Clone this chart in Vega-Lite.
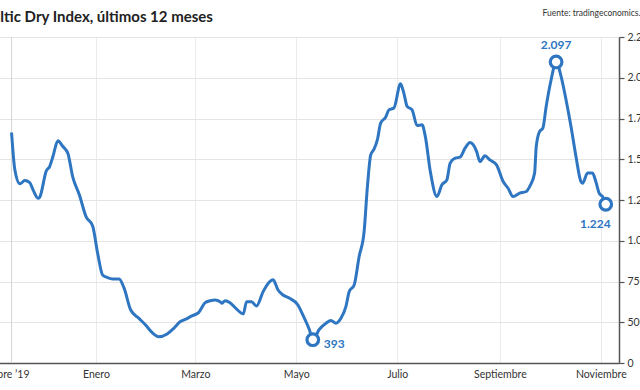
{
  "$schema": "https://vega.github.io/schema/vega-lite/v6.json",
  "width": 624,
  "height": 326,
  "autosize": {"type": "none"},
  "padding": {"left": -5, "top": 37, "right": 21, "bottom": 27},
  "background": "white",
  "title": {
    "text": "Baltic Dry Index, últimos 12 meses",
    "anchor": "start",
    "frame": "group",
    "fontSize": 15,
    "fontWeight": "bold",
    "color": "#222222",
    "font": "Lato",
    "baseline": "alphabetic",
    "dx": -12,
    "dy": 29,
    "offset": 0
  },
  "config": {
    "font": "Lato",
    "view": {"stroke": null}
  },
  "datasets": {
    "bdi": [
      {"date": "2019-11-11", "value": 1664},
      {"date": "2019-11-13", "value": 1435},
      {"date": "2019-11-16", "value": 1349},
      {"date": "2019-11-19", "value": 1369},
      {"date": "2019-11-22", "value": 1357},
      {"date": "2019-11-24", "value": 1312},
      {"date": "2019-11-27", "value": 1261},
      {"date": "2019-11-28", "value": 1267},
      {"date": "2019-12-02", "value": 1429},
      {"date": "2019-12-04", "value": 1455},
      {"date": "2019-12-06", "value": 1517},
      {"date": "2019-12-09", "value": 1613},
      {"date": "2019-12-12", "value": 1578},
      {"date": "2019-12-15", "value": 1537},
      {"date": "2019-12-18", "value": 1390},
      {"date": "2019-12-22", "value": 1281},
      {"date": "2019-12-26", "value": 1148},
      {"date": "2019-12-30", "value": 1091},
      {"date": "2020-01-02", "value": 924},
      {"date": "2020-01-05", "value": 790},
      {"date": "2020-01-08", "value": 774},
      {"date": "2020-01-11", "value": 766},
      {"date": "2020-01-15", "value": 766},
      {"date": "2020-01-18", "value": 709},
      {"date": "2020-01-22", "value": 575},
      {"date": "2020-01-27", "value": 524},
      {"date": "2020-01-31", "value": 483},
      {"date": "2020-02-04", "value": 436},
      {"date": "2020-02-08", "value": 411},
      {"date": "2020-02-13", "value": 428},
      {"date": "2020-02-17", "value": 463},
      {"date": "2020-02-21", "value": 504},
      {"date": "2020-02-24", "value": 518},
      {"date": "2020-02-28", "value": 539},
      {"date": "2020-03-03", "value": 559},
      {"date": "2020-03-07", "value": 620},
      {"date": "2020-03-10", "value": 632},
      {"date": "2020-03-13", "value": 637},
      {"date": "2020-03-16", "value": 626},
      {"date": "2020-03-17", "value": 616},
      {"date": "2020-03-19", "value": 632},
      {"date": "2020-03-22", "value": 620},
      {"date": "2020-03-26", "value": 580},
      {"date": "2020-03-30", "value": 551},
      {"date": "2020-04-01", "value": 626},
      {"date": "2020-04-04", "value": 626},
      {"date": "2020-04-07", "value": 600},
      {"date": "2020-04-11", "value": 688},
      {"date": "2020-04-15", "value": 749},
      {"date": "2020-04-17", "value": 760},
      {"date": "2020-04-20", "value": 698},
      {"date": "2020-04-23", "value": 667},
      {"date": "2020-04-27", "value": 647},
      {"date": "2020-05-02", "value": 606},
      {"date": "2020-05-05", "value": 545},
      {"date": "2020-05-09", "value": 453},
      {"date": "2020-05-11", "value": 393},
      {"date": "2020-05-15", "value": 457},
      {"date": "2020-05-19", "value": 494},
      {"date": "2020-05-22", "value": 510},
      {"date": "2020-05-25", "value": 494},
      {"date": "2020-05-28", "value": 524},
      {"date": "2020-05-31", "value": 596},
      {"date": "2020-06-02", "value": 688},
      {"date": "2020-06-05", "value": 729},
      {"date": "2020-06-08", "value": 903},
      {"date": "2020-06-11", "value": 1056},
      {"date": "2020-06-13", "value": 1332},
      {"date": "2020-06-15", "value": 1527},
      {"date": "2020-06-17", "value": 1562},
      {"date": "2020-06-19", "value": 1619},
      {"date": "2020-06-21", "value": 1722},
      {"date": "2020-06-24", "value": 1758},
      {"date": "2020-06-26", "value": 1803},
      {"date": "2020-06-29", "value": 1814},
      {"date": "2020-07-03", "value": 1963},
      {"date": "2020-07-05", "value": 1906},
      {"date": "2020-07-07", "value": 1824},
      {"date": "2020-07-10", "value": 1803},
      {"date": "2020-07-13", "value": 1707},
      {"date": "2020-07-16", "value": 1711},
      {"date": "2020-07-18", "value": 1639},
      {"date": "2020-07-21", "value": 1425},
      {"date": "2020-07-25", "value": 1271},
      {"date": "2020-07-28", "value": 1343},
      {"date": "2020-07-31", "value": 1374},
      {"date": "2020-08-02", "value": 1476},
      {"date": "2020-08-05", "value": 1507},
      {"date": "2020-08-08", "value": 1513},
      {"date": "2020-08-11", "value": 1568},
      {"date": "2020-08-14", "value": 1603},
      {"date": "2020-08-16", "value": 1588},
      {"date": "2020-08-18", "value": 1547},
      {"date": "2020-08-20", "value": 1486},
      {"date": "2020-08-23", "value": 1521},
      {"date": "2020-08-26", "value": 1496},
      {"date": "2020-08-30", "value": 1466},
      {"date": "2020-09-03", "value": 1363},
      {"date": "2020-09-06", "value": 1322},
      {"date": "2020-09-09", "value": 1271},
      {"date": "2020-09-13", "value": 1292},
      {"date": "2020-09-17", "value": 1302},
      {"date": "2020-09-19", "value": 1332},
      {"date": "2020-09-22", "value": 1415},
      {"date": "2020-09-23", "value": 1578},
      {"date": "2020-09-25", "value": 1670},
      {"date": "2020-09-27", "value": 1691},
      {"date": "2020-09-29", "value": 1824},
      {"date": "2020-10-02", "value": 1988},
      {"date": "2020-10-05", "value": 2097},
      {"date": "2020-10-08", "value": 2009},
      {"date": "2020-10-11", "value": 1865},
      {"date": "2020-10-14", "value": 1701},
      {"date": "2020-10-17", "value": 1517},
      {"date": "2020-10-20", "value": 1363},
      {"date": "2020-10-21", "value": 1353},
      {"date": "2020-10-24", "value": 1415},
      {"date": "2020-10-27", "value": 1415},
      {"date": "2020-10-29", "value": 1363},
      {"date": "2020-10-31", "value": 1292},
      {"date": "2020-11-02", "value": 1271},
      {"date": "2020-11-04", "value": 1224}
    ],
    "marks": [
      {"date": "2020-05-11", "value": 393, "label": "393"},
      {"date": "2020-10-05", "value": 2097, "label": "2.097"},
      {"date": "2020-11-04", "value": 1224, "label": "1.224"}
    ]
  },
  "layer": [
    {
      "data": {"name": "bdi"},
      "mark": {"type": "rule", "color": "#d6d6d6", "strokeWidth": 1},
      "encoding": {
        "x": {"field": "date", "type": "temporal", "aggregate": "min"}
      }
    },
    {
      "data": {"name": "bdi"},
      "mark": {"type": "line", "color": "#2e76c1", "strokeWidth": 3, "interpolate": "monotone"},
      "encoding": {
        "x": {
          "field": "date",
          "type": "temporal",
          "scale": {
            "type": "utc",
            "domain": [
              {"year": 2019, "month": 11, "date": 1, "utc": true},
              {"year": 2020, "month": 11, "date": 12, "utc": true}
            ]
          },
          "axis": {
            "title": null,
            "values": [
              {"year": 2019, "month": 11, "date": 1, "utc": true},
              {"year": 2020, "month": 1, "date": 1, "utc": true},
              {"year": 2020, "month": 3, "date": 1, "utc": true},
              {"year": 2020, "month": 5, "date": 1, "utc": true},
              {"year": 2020, "month": 7, "date": 1, "utc": true},
              {"year": 2020, "month": 9, "date": 1, "utc": true},
              {"year": 2020, "month": 11, "date": 1, "utc": true}
            ],
            "labelExpr": "utcmonth(datum.value) == 10 ? (utcyear(datum.value) == 2019 ? 'Noviembre ’19' : 'Noviembre') : utcmonth(datum.value) == 0 ? 'Enero' : utcmonth(datum.value) == 2 ? 'Marzo' : utcmonth(datum.value) == 4 ? 'Mayo' : utcmonth(datum.value) == 6 ? 'Julio' : 'Septiembre'",
            "grid": true,
            "gridColor": "#ebebeb",
            "gridWidth": 1,
            "ticks": false,
            "domainColor": "#555555",
            "domainWidth": 1.5,
            "labelPadding": 6,
            "labelFlush": false,
            "labelOverlap": false,
            "labelFontSize": 10.5,
            "labelColor": "#333333",
            "labelFont": "Lato"
          }
        },
        "y": {
          "field": "value",
          "type": "quantitative",
          "scale": {"domain": [250, 2250], "nice": false, "zero": false},
          "axis": {
            "orient": "right",
            "values": [250, 500, 750, 1000, 1250, 1500, 1750, 2000, 2250],
            "labelExpr": "datum.value == 250 ? '0' : replace(format(datum.value, ','), ',', '.')",
            "grid": true,
            "gridColor": "#e4e4e4",
            "gridWidth": 1,
            "domainColor": "#555555",
            "domainWidth": 1.5,
            "tickColor": "#555555",
            "tickSize": 5,
            "tickWidth": 1.2,
            "labelPadding": 3,
            "labelFontSize": 10.5,
            "labelColor": "#333333",
            "labelFont": "Lato",
            "labelBound": false,
            "labelOverlap": false,
            "title": "Fuente: tradingeconomics.com",
            "titleAngle": 0,
            "titleAlign": "left",
            "titleBaseline": "alphabetic",
            "titleX": -77,
            "titleY": -22,
            "titleFontSize": 8.5,
            "titleFontWeight": "normal",
            "titleColor": "#333333",
            "titleFont": "Lato"
          }
        }
      }
    },
    {
      "data": {"name": "marks"},
      "mark": {"type": "point", "shape": "circle", "size": 135, "filled": false, "fill": "white", "fillOpacity": 1, "stroke": "#2e76c1", "strokeWidth": 3.2, "opacity": 1},
      "encoding": {
        "x": {"field": "date", "type": "temporal"},
        "y": {"field": "value", "type": "quantitative"}
      }
    },
    {
      "data": {"name": "marks"},
      "transform": [{"filter": "datum.label == '2.097'"}],
      "mark": {"type": "text", "color": "#2e76c1", "fontWeight": "bold", "fontSize": 12, "font": "Lato", "align": "center", "baseline": "middle", "dy": -17},
      "encoding": {
        "x": {"field": "date", "type": "temporal"},
        "y": {"field": "value", "type": "quantitative"},
        "text": {"field": "label"}
      }
    },
    {
      "data": {"name": "marks"},
      "transform": [{"filter": "datum.label == '393'"}],
      "mark": {"type": "text", "color": "#2e76c1", "fontWeight": "bold", "fontSize": 12, "font": "Lato", "align": "left", "baseline": "middle", "dx": 11, "dy": 4},
      "encoding": {
        "x": {"field": "date", "type": "temporal"},
        "y": {"field": "value", "type": "quantitative"},
        "text": {"field": "label"}
      }
    },
    {
      "data": {"name": "marks"},
      "transform": [{"filter": "datum.label == '1.224'"}],
      "mark": {"type": "text", "color": "#2e76c1", "fontWeight": "bold", "fontSize": 12, "font": "Lato", "align": "right", "baseline": "middle", "dx": 5, "dy": 20},
      "encoding": {
        "x": {"field": "date", "type": "temporal"},
        "y": {"field": "value", "type": "quantitative"},
        "text": {"field": "label"}
      }
    }
  ]
}
